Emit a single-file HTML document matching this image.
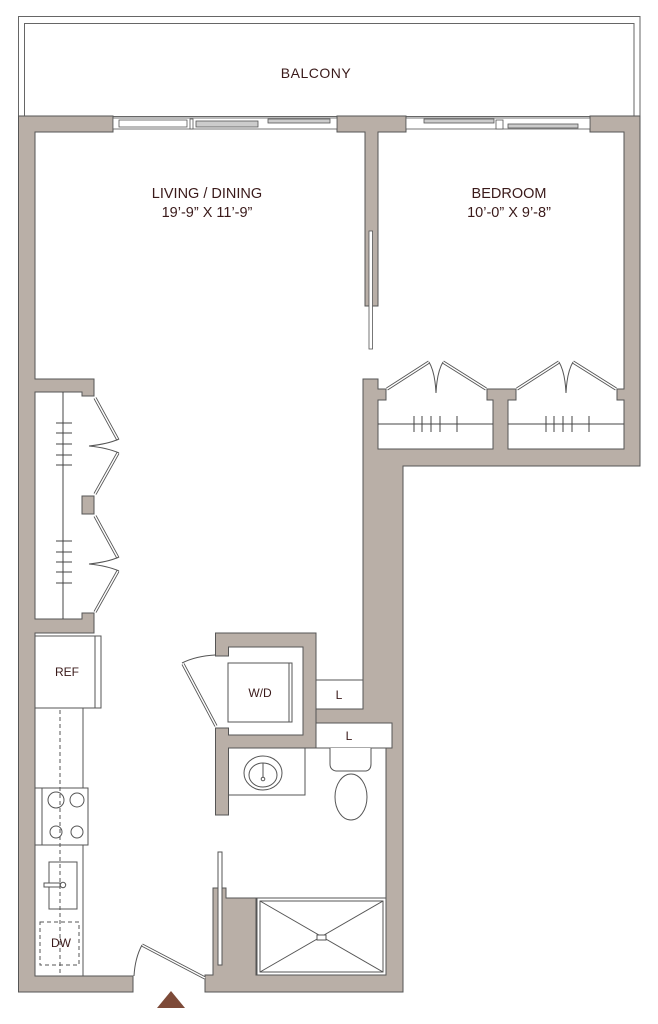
<!DOCTYPE html>
<html><head><meta charset="utf-8"><style>
html,body{margin:0;padding:0;background:#fff;}
svg{display:block;}
text{font-family:"Liberation Sans",sans-serif;fill:#3a1a1a;}
</style></head><body>
<svg width="658" height="1024" viewBox="0 0 658 1024" xmlns="http://www.w3.org/2000/svg">
<g fill="none" stroke="#555" stroke-width="1">
<!-- balcony -->
<rect x="18.5" y="16.5" width="621.5" height="100" stroke="#666"/>
<rect x="24.5" y="23.5" width="609.5" height="93" stroke="#666"/>
</g>
<text x="316" y="78" font-size="14" text-anchor="middle" letter-spacing="0.5">BALCONY</text>

<g fill="#b9afa7" stroke="#555" stroke-width="1">
<!-- top wall + left -->
<polygon points="18.5,116 113,116 113,132 35,132 35,379 94,379 94,396 82,396 82,392 35,392 35,619 82,619 82,613 94,613 94,633 35,633 35,976 133,976 133,992 18.5,992"/>
<!-- middle pier -->
<polygon points="337,116 406,116 406,132 378,132 378,306 365,306 365,132 337,132"/>
<!-- right pier + right wall -->
<polygon points="590,116 640,116 640,466 403,466 403,992 205,992 205,975 213,975 213,888 226,888 226,898 256,898 256,975 386,975 386,748 392,748 392,723 316,723 316,709 363,709 363,466 363,379 378,379 378,389 386,389 386,400 378,400 378,449 493,449 493,400 487,400 487,389 516,389 516,400 508,400 508,449 624,449 624,400 617,400 617,389 624,389 624,132 590,132"/>
<!-- closet mid pier -->
<rect x="82" y="496" width="12" height="18"/>
<!-- W/D closet & bath wall -->
<polygon points="215.5,633 316,633 316,748 228.5,748 228.5,815 215.5,815 215.5,728 228.5,728 228.5,735 303,735 303,647 228.5,647 228.5,656 215.5,656"/>
</g>
<rect x="364" y="707" width="38" height="17" fill="#b9afa7"/>
<rect x="317" y="710" width="50" height="12" fill="#b9afa7"/>

<!-- windows -->
<g fill="#fff" stroke="#555" stroke-width="0.8">
<rect x="113" y="118" width="224" height="11"/>
<rect x="119" y="120" width="68" height="7"/>
<rect x="190" y="119" width="3" height="10"/>
<rect x="196" y="121" width="62" height="6" fill="#ccc"/>
<rect x="268" y="119" width="62" height="4" fill="#ccc"/>
<rect x="406" y="118" width="184" height="11"/>
<rect x="424" y="119" width="70" height="4" fill="#ccc"/>
<rect x="508" y="124" width="70" height="4" fill="#ccc"/>
<rect x="496" y="120" width="7" height="9"/>
<!-- sliding door bedroom -->
<rect x="369" y="231" width="3.5" height="118"/>
</g>

<!-- closet rods -->
<g stroke="#444" stroke-width="1" fill="none">
<line x1="63" y1="392" x2="63" y2="619"/>
<path d="M56 423H72M56 433H72M56 444H72M56 455H72M56 465H72M56 541H72M56 552H72M56 562H72M56 572H72M56 583H72"/>
<line x1="378" y1="424" x2="493" y2="424"/>
<line x1="508" y1="424" x2="624" y2="424"/>
<path d="M414 416V432M422 416V432M431 416V432M440 416V432M457 416V432M546 416V432M554 416V432M563 416V432M572 416V432M589 416V432"/>
</g>
<!-- bifold doors left -->
<g stroke="#555" stroke-width="3.2" fill="none"><path d="M95 398L118 440M118 453L95 494M95 516L118 558M118 571L95 612"/></g>
<g stroke="#fff" stroke-width="1.4" fill="none"><path d="M95 398L118 440M118 453L95 494M95 516L118 558M118 571L95 612"/></g>
<path d="M89 446Q108 444 119 439M89 446Q108 448 119 453M89 564Q108 562 119 557M89 564Q108 566 119 571" stroke="#555" fill="none"/>
<!-- bifold bedroom closets -->
<g stroke="#555" stroke-width="3.2" fill="none"><path d="M387 389L429 362M443 362L486 389M517 389L559 362M573 362L616 389"/></g>
<g stroke="#fff" stroke-width="1.4" fill="none"><path d="M387 389L429 362M443 362L486 389M517 389L559 362M573 362L616 389"/></g>
<path d="M429 362Q435 372 436 393M443 362Q437 372 436 393M559 362Q565 372 566 393M573 362Q567 372 566 393" stroke="#555" fill="none"/>

<!-- kitchen -->
<g stroke="#555" stroke-width="1" fill="#fff">
<rect x="35" y="636" width="66" height="72"/>
<line x1="95" y1="636" x2="95" y2="708"/>
<rect x="35" y="708" width="48" height="268"/>
<rect x="35" y="788" width="53" height="57"/>
<line x1="42" y1="788" x2="42" y2="845"/>
<circle cx="56" cy="800" r="8"/><circle cx="77" cy="800" r="7"/>
<circle cx="56" cy="832" r="6"/><circle cx="77" cy="832" r="6"/>
<rect x="49" y="862" width="28" height="47"/>
<rect x="44" y="883" width="16" height="4"/>
<circle cx="63" cy="885" r="2.7"/>
</g>
<line x1="60" y1="710" x2="60" y2="976" stroke="#555" stroke-dasharray="4,3"/>
<rect x="40" y="922" width="39" height="43" fill="none" stroke="#555" stroke-dasharray="4,3"/>
<text x="67" y="676" font-size="12" text-anchor="middle">REF</text>
<text x="61" y="947" font-size="12" text-anchor="middle">DW</text>

<!-- W/D and bath -->
<g stroke="#555" stroke-width="1" fill="#fff">
<rect x="228" y="663" width="64" height="59"/>
<line x1="289" y1="663" x2="289" y2="722"/>
<rect x="316" y="680" width="47" height="29"/>
<rect x="316" y="723" width="76" height="25"/>
<rect x="228.5" y="748" width="76.5" height="47"/>
<ellipse cx="263" cy="773" rx="19" ry="17"/>
<ellipse cx="263" cy="775" rx="14" ry="12"/>
<line x1="263" y1="763" x2="263" y2="778"/>
<circle cx="263" cy="779" r="1.8"/>
<path d="M330 748V764Q330 770 336 771H366Q371 770 371 764V748"/>
<ellipse cx="351" cy="797" rx="16" ry="23"/>
<rect x="257" y="898" width="129" height="77"/>
<rect x="260" y="901" width="123" height="71"/>
<line x1="260" y1="901" x2="383" y2="972"/><line x1="383" y1="901" x2="260" y2="972"/>
<rect x="317" y="935" width="9" height="5"/>
<rect x="218" y="852" width="4" height="113"/>
</g>
<text x="260" y="697" font-size="12" text-anchor="middle">W/D</text>
<text x="339" y="699" font-size="12" text-anchor="middle">L</text>
<text x="349" y="740" font-size="12" text-anchor="middle">L</text>
<!-- wd door -->
<g stroke="#555" stroke-width="3.2" fill="none"><path d="M183 664L216 726"/></g>
<g stroke="#fff" stroke-width="1.4" fill="none"><path d="M183 664L216 726"/></g>
<path d="M182 663Q196 656 215 655" stroke="#555" fill="none"/>
<!-- entry door -->
<g stroke="#555" stroke-width="3.2" fill="none"><path d="M142 945L205 978"/></g>
<g stroke="#fff" stroke-width="1.4" fill="none"><path d="M142 945L205 978"/></g>
<path d="M142 945Q135 958 134 976" stroke="#555" fill="none"/>
<polygon points="171,991 157,1008 185,1008" fill="#7d4a38"/>

<text x="207" y="198" font-size="14.5" text-anchor="middle">LIVING / DINING</text>
<text x="207" y="217" font-size="14.5" text-anchor="middle">19’-9” X 11’-9”</text>
<text x="509" y="198" font-size="14.5" text-anchor="middle">BEDROOM</text>
<text x="509" y="217" font-size="14.5" text-anchor="middle">10’-0” X 9’-8”</text>
</svg>
</body></html>
